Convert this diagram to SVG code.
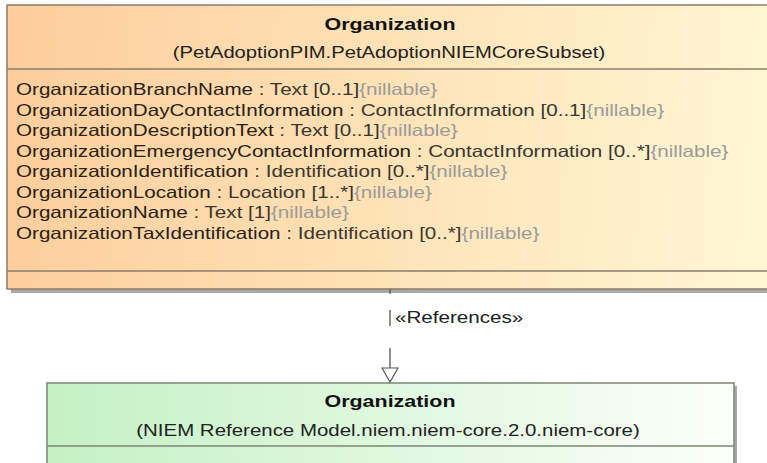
<svg xmlns="http://www.w3.org/2000/svg" width="767" height="463" viewBox="0 0 767 463">
<defs>
<style>
.t{font-family:"Liberation Sans",Arial,sans-serif;font-size:16.5px}
.b{font-weight:bold;fill:#111}
.s{fill:#222}
.n{fill:#2a2218}
.ty{fill:#3c3630}
.nl{fill:#9b9b9b}
.bo{stroke:#8a7d6b;stroke-width:1.5}
.bg{stroke:#7d8672;stroke-width:1.5}
.sh{fill:#a8a8a8}
.conn{stroke:#555;stroke-width:1.3;fill:none}
</style>
<linearGradient id="gOrange" gradientUnits="userSpaceOnUse" x1="7" y1="0" x2="767" y2="60">
<stop offset="0" stop-color="#FDCD9B"/>
<stop offset="0.5" stop-color="#FEE2B6"/>
<stop offset="1" stop-color="#FFF6D4"/>
</linearGradient>
<linearGradient id="gGreen" gradientUnits="userSpaceOnUse" x1="47" y1="0" x2="734" y2="0">
<stop offset="0" stop-color="#C4F1C4"/>
<stop offset="1" stop-color="#FBFFF9"/>
</linearGradient>
<marker id="tri" viewBox="-1 -1 16 18" refX="14" refY="8" markerWidth="16" markerHeight="18" markerUnits="userSpaceOnUse" orient="auto">
<path d="M0,0 L14,8 L0,16 Z" fill="#fff" stroke="#555" stroke-width="1.2"/>
</marker>
</defs>
<rect width="767" height="463" fill="#fff"/>

<g id="pim-organization">
<rect class="sh" x="11" y="9" width="800" height="284"/>
<rect x="7" y="5" width="800" height="284" fill="url(#gOrange)" class="bo"/>
<line class="bo" x1="7" y1="69" x2="807" y2="69"/>
<line class="bo" x1="7" y1="271" x2="807" y2="271"/>
<text class="t b" text-anchor="middle" transform="matrix(1.3 0 0 1 390 30)">Organization</text>
<text class="t s" text-anchor="middle" transform="matrix(1.225 0 0 1 389 58)">(PetAdoptionPIM.PetAdoptionNIEMCoreSubset)</text>
<text class="t" transform="matrix(1.25 0 0 1 16 95)"><tspan class="n">OrganizationBranchName</tspan><tspan class="ty"> : Text [0..1]</tspan><tspan class="nl">{nillable}</tspan></text>
<text class="t" transform="matrix(1.25 0 0 1 16 115.5)"><tspan class="n">OrganizationDayContactInformation</tspan><tspan class="ty"> : ContactInformation [0..1]</tspan><tspan class="nl">{nillable}</tspan></text>
<text class="t" transform="matrix(1.25 0 0 1 16 136)"><tspan class="n">OrganizationDescriptionText</tspan><tspan class="ty"> : Text [0..1]</tspan><tspan class="nl">{nillable}</tspan></text>
<text class="t" transform="matrix(1.25 0 0 1 16 156.5)"><tspan class="n">OrganizationEmergencyContactInformation</tspan><tspan class="ty"> : ContactInformation [0..*]</tspan><tspan class="nl">{nillable}</tspan></text>
<text class="t" transform="matrix(1.25 0 0 1 16 177)"><tspan class="n">OrganizationIdentification</tspan><tspan class="ty"> : Identification [0..*]</tspan><tspan class="nl">{nillable}</tspan></text>
<text class="t" transform="matrix(1.25 0 0 1 16 197.5)"><tspan class="n">OrganizationLocation</tspan><tspan class="ty"> : Location [1..*]</tspan><tspan class="nl">{nillable}</tspan></text>
<text class="t" transform="matrix(1.25 0 0 1 16 218)"><tspan class="n">OrganizationName</tspan><tspan class="ty"> : Text [1]</tspan><tspan class="nl">{nillable}</tspan></text>
<text class="t" transform="matrix(1.25 0 0 1 16 238.5)"><tspan class="n">OrganizationTaxIdentification</tspan><tspan class="ty"> : Identification [0..*]</tspan><tspan class="nl">{nillable}</tspan></text>
</g>

<g id="niem-organization">
<rect class="sh" x="50" y="386" width="687" height="100"/>
<rect x="47" y="383" width="687" height="100" fill="url(#gGreen)" class="bg"/>
<line class="bg" x1="47" y1="446" x2="734" y2="446"/>
<text class="t b" text-anchor="middle" transform="matrix(1.3 0 0 1 390 407)">Organization</text>
<text class="t s" text-anchor="middle" transform="matrix(1.24 0 0 1 388 436)">(NIEM Reference Model.niem.niem-core.2.0.niem-core)</text>
</g>

<g id="connectors">
<path class="conn" d="M390,289 V294 M390,310 V326 M390,348 V382" marker-end="url(#tri)"/>
<text class="t s" transform="matrix(1.25 0 0 1 395 323)">«References»</text>
</g>
</svg>
